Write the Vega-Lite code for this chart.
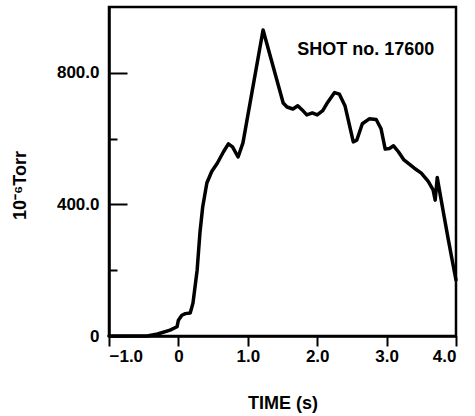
{
  "$schema": "https://vega.github.io/schema/vega-lite/v6.json",
  "width": 347,
  "height": 329,
  "autosize": "none",
  "padding": {"left": 109, "top": 7, "right": 19, "bottom": 80},
  "background": "white",
  "config": {
    "view": {"stroke": "black", "strokeWidth": 2.5},
    "axis": {
      "zindex": 1,
      "domainColor": "black", "domainWidth": 2.5,
      "ticks": true,
      "tickColor": "black", "tickWidth": 2,
      "labelFont": "Liberation Sans", "labelFontWeight": "bold", "labelFontSize": 17, "labelColor": "black",
      "titleFont": "Liberation Sans", "titleFontWeight": "bold", "titleFontSize": 18, "titleColor": "black",
      "grid": false
    }
  },
  "layer": [
    {
      "data": {"values": [
        {"t": -1.0, "p": 0}, {"t": -0.45, "p": 0}, {"t": -0.3, "p": 6}, {"t": -0.12, "p": 18},
        {"t": -0.02, "p": 28}, {"t": 0.0, "p": 48}, {"t": 0.05, "p": 63}, {"t": 0.1, "p": 68},
        {"t": 0.17, "p": 70}, {"t": 0.21, "p": 100}, {"t": 0.27, "p": 200}, {"t": 0.31, "p": 313},
        {"t": 0.35, "p": 392}, {"t": 0.41, "p": 465}, {"t": 0.48, "p": 500}, {"t": 0.56, "p": 525},
        {"t": 0.65, "p": 560}, {"t": 0.72, "p": 584}, {"t": 0.78, "p": 575}, {"t": 0.86, "p": 544},
        {"t": 0.93, "p": 587}, {"t": 1.22, "p": 930}, {"t": 1.51, "p": 708}, {"t": 1.565, "p": 696},
        {"t": 1.65, "p": 690}, {"t": 1.72, "p": 700}, {"t": 1.78, "p": 688}, {"t": 1.85, "p": 672},
        {"t": 1.93, "p": 678}, {"t": 2.0, "p": 672}, {"t": 2.08, "p": 685}, {"t": 2.15, "p": 710},
        {"t": 2.25, "p": 740}, {"t": 2.32, "p": 735}, {"t": 2.4, "p": 700}, {"t": 2.52, "p": 590},
        {"t": 2.57, "p": 595}, {"t": 2.65, "p": 645}, {"t": 2.75, "p": 660}, {"t": 2.85, "p": 658},
        {"t": 2.92, "p": 630}, {"t": 2.98, "p": 568}, {"t": 3.04, "p": 570}, {"t": 3.1, "p": 578},
        {"t": 3.17, "p": 560}, {"t": 3.25, "p": 535}, {"t": 3.4, "p": 510}, {"t": 3.5, "p": 495},
        {"t": 3.6, "p": 470}, {"t": 3.67, "p": 444}, {"t": 3.7, "p": 413}, {"t": 3.73, "p": 482},
        {"t": 3.76, "p": 445}, {"t": 3.82, "p": 374}, {"t": 3.89, "p": 292}, {"t": 3.95, "p": 225},
        {"t": 4.0, "p": 170}
      ]},
      "mark": {"type": "line", "color": "black", "strokeWidth": 3.5, "strokeJoin": "round", "strokeCap": "round"},
      "encoding": {
        "x": {"field": "t", "type": "quantitative",
          "scale": {"domain": [-1, 4], "nice": false, "zero": false},
          "axis": {"values": [-1, 0, 1, 2, 3, 4], "ticks": true, "tickSize": 10, "labelPadding": 2,
            "labelExpr": "datum.value == 0 ? '0' : format(datum.value, '.1f')",
            "title": "TIME (s)", "titlePadding": 30}},
        "y": {"field": "p", "type": "quantitative",
          "scale": {"domain": [0, 1000], "nice": false},
          "axis": {"values": [0, 400, 800], "ticks": true, "tickSize": -18, "labelPadding": 28,
            "labelExpr": "datum.value == 0 ? '0' : format(datum.value, '.1f')",
            "title": "10⁻⁶Torr", "titleX": -80, "titleY": 178}}
      }
    },
    {
      "data": {"values": [{"t": 3, "p": 200}, {"t": 3, "p": 600}]},
      "mark": {"type": "point", "opacity": 0},
      "encoding": {
        "x": {"field": "t", "type": "quantitative"},
        "y": {"field": "p", "type": "quantitative",
          "axis": {"orient": "left", "values": [200, 600], "labels": false, "ticks": true, "tickSize": -8, "domain": false, "title": null}}
      }
    },
    {
      "data": {"values": [{"t": 2.7, "p": 869, "label": "SHOT no. 17600"}]},
      "mark": {"type": "text", "font": "Liberation Sans", "fontWeight": "bold", "fontSize": 18, "color": "black", "align": "center", "baseline": "middle"},
      "encoding": {
        "x": {"field": "t", "type": "quantitative"},
        "y": {"field": "p", "type": "quantitative", "axis": null},
        "text": {"field": "label"}
      }
    }
  ],
  "resolve": {"axis": {"y": "independent"}}
}
